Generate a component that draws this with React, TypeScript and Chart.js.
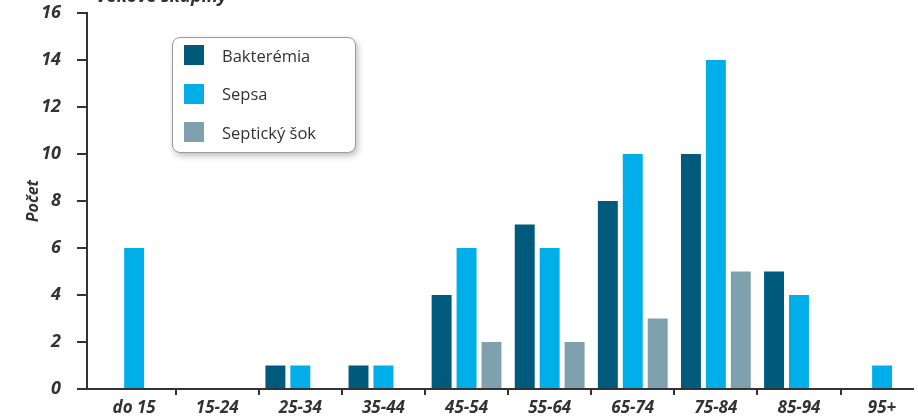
import React, { useEffect, useRef } from "react";
import { Chart, registerables } from "chart.js";

Chart.register(...registerables);

const categories = ["do 15", "15-24", "25-34", "35-44", "45-54", "55-64", "65-74", "75-84", "85-94", "95+"];
const bakteremia = [0, 0, 1, 1, 4, 7, 8, 10, 5, 0];
const sepsa = [6, 0, 1, 1, 6, 6, 10, 14, 4, 1];
const septickySok = [0, 0, 0, 0, 2, 2, 3, 5, 0, 0];
const seriesNames = ["Bakterémia", "Sepsa", "Septický šok"];
const seriesColors = ["#005A7B", "#00AEEA", "#7FA1AE"];
const yTicks = [0, 2, 4, 6, 8, 10, 12, 14, 16];
const yTitle = "Počet";
const topTitle = "Vekové skupiny";

const FONT = "'Open Sans', 'DejaVu Sans', sans-serif";
const X_MIN = -0.567;
const X_MAX = 9.372;

export default function App() {
  const ref = useRef<HTMLCanvasElement | null>(null);

  useEffect(() => {
    document.body.style.margin = "0";
    const canvas = ref.current;
    if (!canvas) return;
    const titlePlugin = {
      id: "topTitle",
      afterDraw(chart: any) {
        const ctx = chart.ctx;
        ctx.save();
        ctx.font = `italic bold 18px ${FONT}`;
        ctx.fillStyle = "#333";
        ctx.textBaseline = "alphabetic";
        ctx.textAlign = "left";
        ctx.fillText(topTitle, 96, 2);
        ctx.restore();
      },
    };
    const chart = new Chart(canvas, {
      type: "bar",
      data: {
        datasets: [bakteremia, sepsa, septickySok].map((d, i) => ({
          label: seriesNames[i],
          data: d.map((y, k) => ({ x: k, y })),
          backgroundColor: seriesColors[i],
          borderWidth: 0,
          categoryPercentage: 0.9,
          barPercentage: 0.8,
        })),
      },
      options: {
        responsive: false,
        animation: false,
        layout: { padding: { top: 13, right: 5, left: 0, bottom: 0 } },
        plugins: {
          legend: { display: false },
          tooltip: { enabled: false },
        },
        scales: {
          x: {
            type: "linear",
            offset: false,
            min: X_MIN,
            max: X_MAX,
            afterBuildTicks(s: any) {
              s.ticks = categories.map((_, i) => ({ value: i }));
            },
            grid: {
              offset: true,
              drawOnChartArea: false,
              drawTicks: true,
              tickLength: 6,
              tickColor: (ctx: any) => (ctx.index === 0 ? "rgba(0,0,0,0)" : "#333"),
              color: "#333",
              lineWidth: 2,
            },
            border: { color: "#333", width: 2 },
            ticks: {
              color: "#333",
              padding: 3,
              autoSkip: false,
              maxRotation: 0,
              minRotation: 0,
              font: { family: FONT, size: 17, style: "italic", weight: "bold" },
              callback: (v: any) => categories[Math.round(Number(v))],
            },
            afterFit(s: any) {
              s.height = 31;
              s.paddingLeft = 0;
              s.paddingRight = 0;
            },
          },
          y: {
            min: 0,
            max: 16,
            afterBuildTicks(s: any) {
              s.ticks = yTicks.map((v) => ({ value: v }));
            },
            grid: {
              drawOnChartArea: false,
              drawTicks: true,
              tickLength: 10,
              color: "#333",
              lineWidth: 2,
            },
            border: { color: "#333", width: 2 },
            ticks: {
              color: "#333",
              padding: 16,
              font: { family: FONT, size: 18, style: "italic", weight: "bold" },
            },
            title: {
              display: true,
              text: yTitle,
              color: "#333",
              padding: { top: 24, bottom: 0 },
              font: { family: FONT, size: 16, style: "italic", weight: "bold" },
            },
            afterFit(s: any) {
              s.width = 87;
              s.paddingTop = 0;
              s.paddingBottom = 0;
            },
          },
        },
      },
      plugins: [titlePlugin],
    });
    return () => chart.destroy();
  }, []);

  return (
    <div style={{ position: "fixed", left: 0, top: 0, width: 918, height: 420, background: "#fff" }}>
      <canvas ref={ref} width={918} height={420} style={{ display: "block" }} />
      <div
        style={{
          position: "absolute",
          left: 172,
          top: 37,
          width: 184,
          height: 116,
          boxSizing: "border-box",
          border: "1px solid #9a9a9a",
          borderRadius: 8,
          background: "#fff",
          boxShadow: "2px 3px 6px rgba(0,0,0,0.25)",
          fontFamily: FONT,
          fontSize: 16.5,
          color: "#333",
        }}
      >
        {seriesNames.map((n, i) => (
          <div
            key={n}
            style={{ position: "absolute", left: 11, top: 6 + i * 38.5, height: 22, display: "flex", alignItems: "center" }}
          >
            <div style={{ width: 20, height: 20, background: seriesColors[i] }} />
            <span style={{ marginLeft: 18 }}>{n}</span>
          </div>
        ))}
      </div>
    </div>
  );
}
